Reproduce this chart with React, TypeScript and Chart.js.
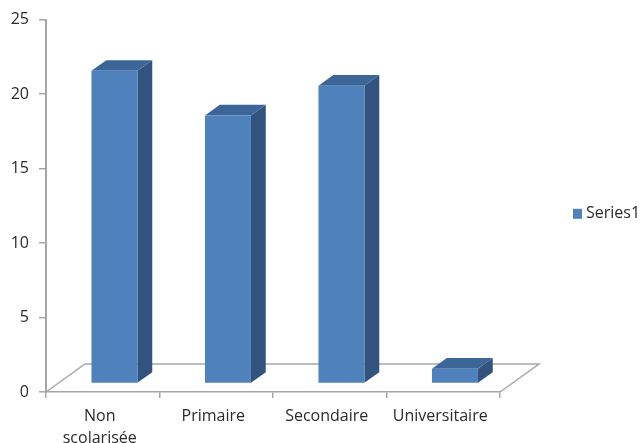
import React, { useEffect, useRef } from 'react';
import { Chart, registerables } from 'chart.js';

Chart.register(...registerables);

const categories: (string | string[])[] = [['Non', 'scolarisée'], 'Primaire', 'Secondaire', 'Universitaire'];
const series1Values = [21, 18, 20, 1];
const yTickValues = [0, 5, 10, 15, 20, 25];
const seriesName = 'Series1';

const FONT_FAMILY = '"Open Sans", "DejaVu Sans", sans-serif';
const TEXT_COLOR = '#2b2b2b';
const AXIS_COLOR = '#a6a6a6';
const FRONT_COLOR = '#4F81BD';
const SIDE_COLOR = '#31537d';
const TOP_COLOR = '#3d6698';

const DEPTH_X = 39;
const DEPTH_Y = -28;
const FRONT_FRAC = 0.3;
const BAR_DEPTH_FRAC = 0.38;

const threeDPlugin = {
  id: 'threeD',
  beforeDatasetsDraw(chart: any) {
    const { ctx, chartArea: a } = chart;
    ctx.save();
    ctx.strokeStyle = AXIS_COLOR;
    ctx.lineWidth = 1.5;
    ctx.beginPath();
    ctx.moveTo(a.left, a.bottom);
    ctx.lineTo(a.left + DEPTH_X, a.bottom + DEPTH_Y);
    ctx.lineTo(a.right + DEPTH_X, a.bottom + DEPTH_Y);
    ctx.lineTo(a.right, a.bottom);
    ctx.stroke();
    ctx.restore();

    ctx.save();
    ctx.translate(DEPTH_X * FRONT_FRAC, DEPTH_Y * FRONT_FRAC);
    const dx = DEPTH_X * BAR_DEPTH_FRAC;
    const dy = DEPTH_Y * BAR_DEPTH_FRAC;
    const meta = chart.getDatasetMeta(0);
    meta.data.forEach((el: any) => {
      const { x, y, base, width } = el.getProps(['x', 'y', 'base', 'width'], true);
      const l = x - width / 2;
      const r = x + width / 2;
      ctx.fillStyle = SIDE_COLOR;
      ctx.beginPath();
      ctx.moveTo(r, y);
      ctx.lineTo(r + dx, y + dy);
      ctx.lineTo(r + dx, base + dy);
      ctx.lineTo(r, base);
      ctx.closePath();
      ctx.fill();
      ctx.fillStyle = TOP_COLOR;
      ctx.beginPath();
      ctx.moveTo(l, y);
      ctx.lineTo(l + dx, y + dy);
      ctx.lineTo(r + dx, y + dy);
      ctx.lineTo(r, y);
      ctx.closePath();
      ctx.fill();
    });
  },
  afterDatasetsDraw(chart: any) {
    chart.ctx.restore();
  },
  afterDraw(chart: any) {
    const { ctx, chartArea: a } = chart;
    ctx.save();
    const lx = a.right + 73;
    const cy = (a.top + a.bottom) / 2 + 8;
    ctx.fillStyle = FRONT_COLOR;
    ctx.fillRect(lx, cy - 5, 9, 10);
    ctx.fillStyle = TEXT_COLOR;
    ctx.font = `16px ${FONT_FAMILY}`;
    ctx.textBaseline = 'middle';
    ctx.textAlign = 'left';
    ctx.fillText(seriesName, lx + 13, cy);
    ctx.restore();
  },
};

export default function App() {
  const ref = useRef<HTMLCanvasElement | null>(null);
  useEffect(() => {
    if (!ref.current) return;
    const chart = new Chart(ref.current, {
      type: 'bar',
      data: {
        labels: categories as any,
        datasets: [
          {
            label: seriesName,
            data: series1Values,
            backgroundColor: FRONT_COLOR,
            borderWidth: 0,
            barPercentage: 0.405,
            categoryPercentage: 1,
          },
        ],
      },
      options: {
        animation: false,
        responsive: false,
        devicePixelRatio: 1,
        layout: { padding: { top: 19, right: 142, left: 0, bottom: 0 } },
        plugins: { legend: { display: false }, tooltip: { enabled: false } },
        scales: {
          x: {
            offset: true,
            grid: { offset: true, drawOnChartArea: false, drawTicks: true, tickLength: 6, color: AXIS_COLOR, lineWidth: 1.5 },
            border: { display: true, color: AXIS_COLOR, width: 1.5 },
            ticks: {
              color: TEXT_COLOR,
              font: { family: FONT_FAMILY, size: 16, lineHeight: 1.375 },
              padding: 7,
              labelOffset: -3,
              maxRotation: 0,
              minRotation: 0,
              autoSkip: false,
            },
            afterFit(scale: any) {
              scale.height = 51;
            },
          },
          y: {
            min: 0,
            max: 25,
            grid: { drawOnChartArea: false, drawTicks: true, tickLength: 7, color: AXIS_COLOR, lineWidth: 1.5 },
            border: { display: true, color: AXIS_COLOR, width: 2 },
            ticks: {
              color: TEXT_COLOR,
              font: { family: FONT_FAMILY, size: 16 },
              padding: 10,
            },
            afterBuildTicks(scale: any) {
              scale.ticks = yTickValues.map((v) => ({ value: v }));
            },
            afterFit(scale: any) {
              scale.width = 46;
            },
          },
        },
      },
      plugins: [threeDPlugin],
    });
    return () => chart.destroy();
  }, []);
  return (
    <canvas
      ref={ref}
      width={642}
      height={443}
      style={{ position: 'absolute', left: 0, top: 0, display: 'block' }}
    />
  );
}
